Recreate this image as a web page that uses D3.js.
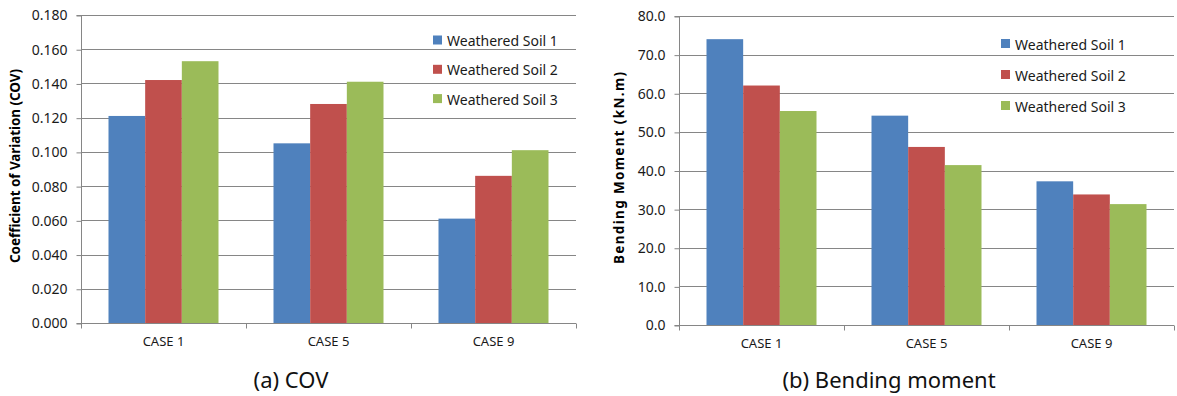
<!DOCTYPE html>
<html><head><meta charset="utf-8">
<script src="https://cdn.jsdelivr.net/npm/d3@7"></script>
<style>
body{margin:0;background:#fff;}
text{font-family:"Noto Sans","Open Sans",sans-serif;}
</style></head>
<body>
<svg id="chart" width="1177" height="396"></svg>
<script>
const categories = ["CASE 1", "CASE 5", "CASE 9"];
const seriesNames = ["Weathered Soil 1", "Weathered Soil 2", "Weathered Soil 3"];
const colors = ["#4F81BD", "#C0504D", "#9BBB59"];

const covSoil1 = [0.121, 0.105, 0.061];
const covSoil2 = [0.142, 0.128, 0.086];
const covSoil3 = [0.153, 0.141, 0.101];
const covTicks = [0, 0.02, 0.04, 0.06, 0.08, 0.10, 0.12, 0.14, 0.16, 0.18];

const bmSoil1 = [74.0, 54.2, 37.2];
const bmSoil2 = [62.0, 46.1, 33.8];
const bmSoil3 = [55.4, 41.4, 31.3];
const bmTicks = [0, 10, 20, 30, 40, 50, 60, 70, 80];

const svg = d3.select("#chart");

function drawChart(cfg) {
  const g = svg.append("g");
  const x = d3.scaleBand().domain(categories).range([cfg.x0, cfg.x1]);
  const y = d3.scaleLinear().domain([0, cfg.max]).range([cfg.y0, cfg.y1]);
  const sub = d3.scaleBand().domain(d3.range(3)).range([0, x.bandwidth()]).paddingInner(0).paddingOuter(0.75);

  // gridlines
  g.append("g").selectAll("line").data(cfg.ticks.slice(1)).join("line")
    .attr("x1", cfg.x0).attr("x2", cfg.x1)
    .attr("y1", d => Math.round(y(d)) + 0.5).attr("y2", d => Math.round(y(d)) + 0.5)
    .attr("stroke", "#868686").attr("stroke-width", 1);

  // bars
  cfg.series.forEach((vals, si) => {
    g.append("g").selectAll("rect").data(vals).join("rect")
      .attr("x", (d, i) => x(categories[i]) + sub(si))
      .attr("width", sub.bandwidth())
      .attr("y", d => y(d))
      .attr("height", d => y(0) - y(d))
      .attr("fill", colors[si]);
  });

  // y axis
  const yAxis = d3.axisLeft(y).tickValues(cfg.ticks).tickFormat(cfg.fmt).tickSize(5).tickPadding(9);
  const ya = g.append("g").attr("transform", `translate(${Math.round(cfg.x0) + 0.5},0.5)`).call(yAxis);
  ya.select(".domain").attr("stroke", "#868686").attr("d", `M-5,${y(0)}H0V${y(cfg.max)}H-5`);
  ya.selectAll(".tick line").attr("stroke", "#868686");
  ya.selectAll(".tick text").attr("fill", "#1a1a1a").style("font-size", "14px").style("font-family", "'Noto Sans',sans-serif");

  // x axis
  const xa = g.append("g").attr("transform", `translate(0,${Math.round(y(0)) + 0.5})`);
  xa.append("line").attr("x1", cfg.x0).attr("x2", cfg.x1).attr("stroke", "#868686");
  const bounds = [cfg.x0].concat(categories.map(c => x(c) + x.bandwidth()));
  xa.selectAll("line.tk").data(bounds).join("line").attr("class", "tk")
    .attr("x1", d => Math.round(d) + 0.5).attr("x2", d => Math.round(d) + 0.5)
    .attr("y1", 0).attr("y2", 5).attr("stroke", "#868686");
  xa.selectAll("text").data(categories).join("text")
    .attr("x", d => x(d) + x.bandwidth() / 2).attr("y", 22)
    .attr("text-anchor", "middle").attr("fill", "#1a1a1a").style("font-size", "13px")
    .text(d => d);

  // y title
  g.append("text")
    .attr("transform", `translate(${cfg.titleX},${cfg.titleY}) rotate(-90)`)
    .attr("text-anchor", "middle").attr("dominant-baseline", "central")
    .attr("textLength", cfg.titleLen).attr("lengthAdjust", "spacing")
    .style("font-size", "13.5px").style("font-weight", "bold").attr("fill", "#000")
    .text(cfg.yTitle);

  // legend
  const lg = g.append("g");
  seriesNames.forEach((n, i) => {
    const ly = cfg.legY + i * cfg.legStep;
    lg.append("rect").attr("x", cfg.legX).attr("y", ly - 5).attr("width", 9).attr("height", 9).attr("fill", colors[i]);
    lg.append("text").attr("x", cfg.legX + 14).attr("y", ly).attr("dominant-baseline", "central")
      .style("font-size", "14px").attr("fill", "#1a1a1a").text(n);
  });

  // caption
  g.append("text").attr("x", cfg.capX).attr("y", 388).attr("text-anchor", "middle")
    .style("font-size", "22px").attr("fill", "#111")
    .text(cfg.caption);
}

drawChart({
  x0: 81, x1: 576, y0: 323, y1: 15, max: 0.18, ticks: covTicks,
  fmt: d3.format(".3f"), series: [covSoil1, covSoil2, covSoil3],
  yTitle: "Coefficient of Variation (COV)", titleX: 15, titleY: 166, titleLen: 194,
  legX: 433, legY: 40.5, legStep: 29.3, caption: "(a) COV", capX: 291
});
drawChart({
  x0: 679, x1: 1174, y0: 325, y1: 16, max: 80, ticks: bmTicks,
  fmt: d3.format(".1f"), series: [bmSoil1, bmSoil2, bmSoil3],
  yTitle: "Bending Moment  (kN.m)", titleX: 619, titleY: 168, titleLen: 192,
  legX: 1001, legY: 44, legStep: 31, caption: "(b) Bending moment", capX: 889
});
</script>
</body></html>
